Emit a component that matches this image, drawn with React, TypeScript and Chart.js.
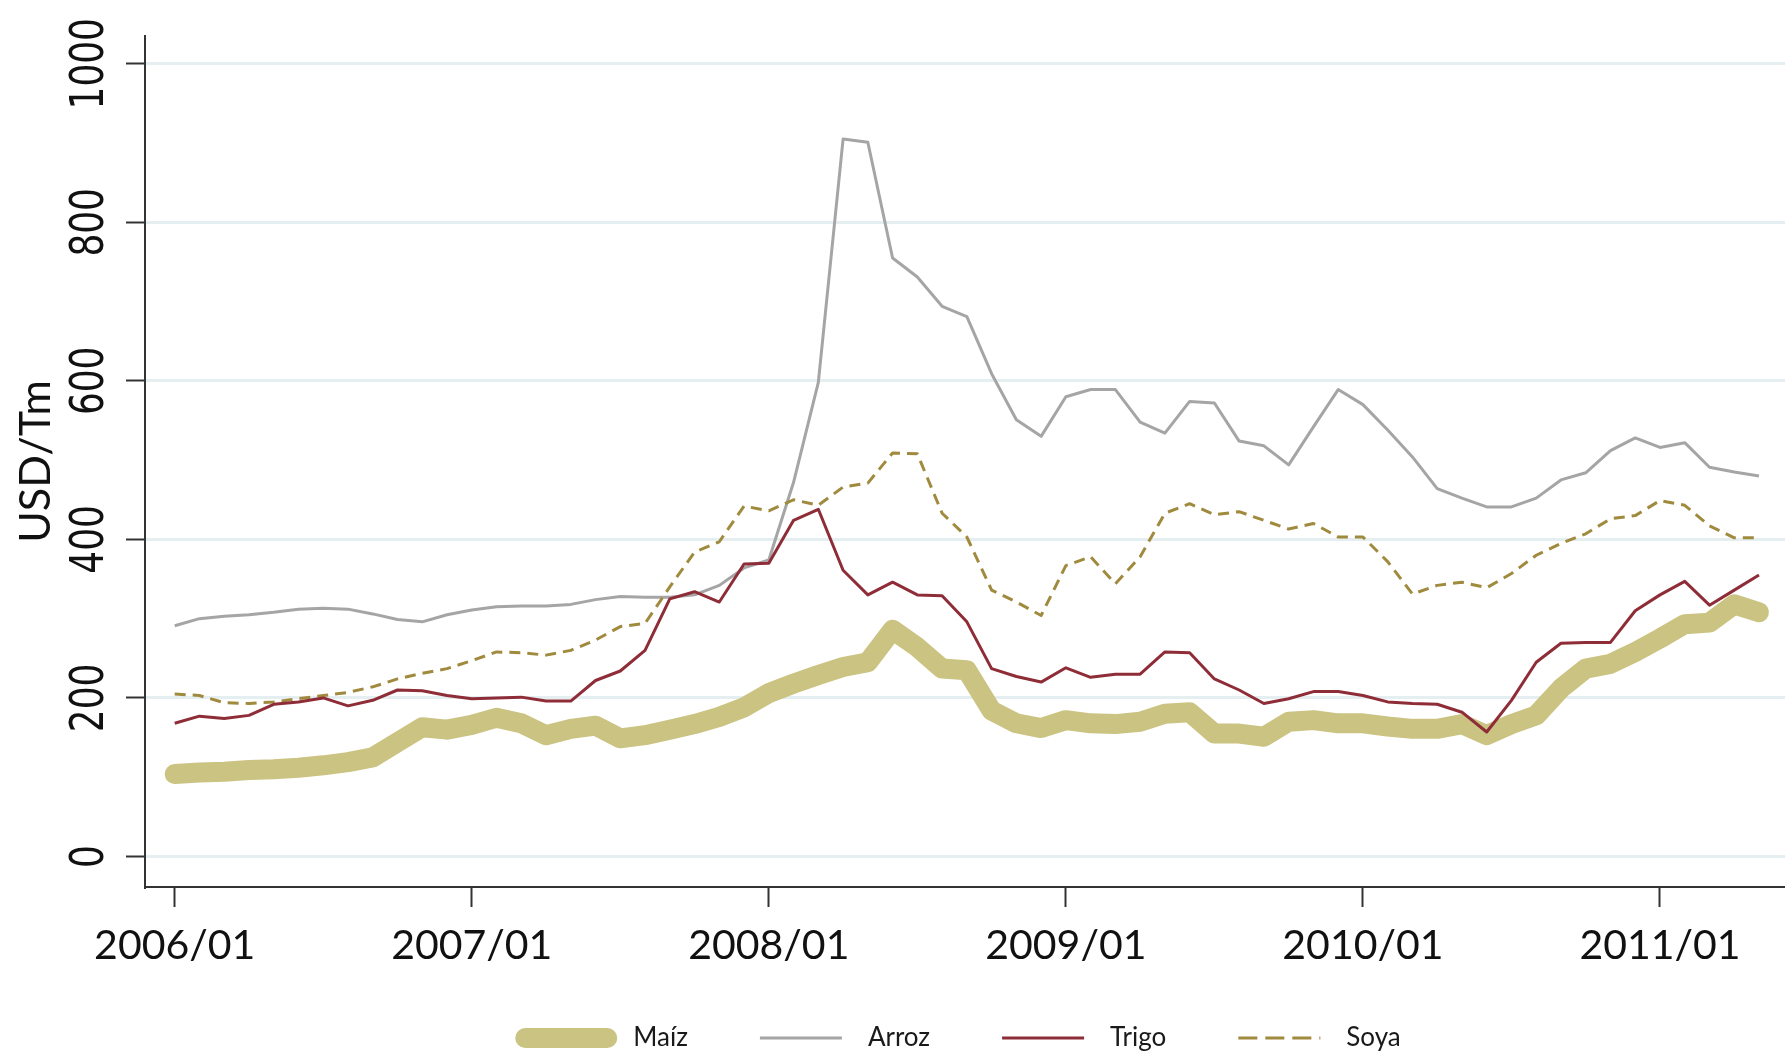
import React, { useEffect, useRef } from "react";
import { Chart, registerables } from "chart.js";

Chart.register(...registerables);

// Monthly prices, 2006/01 .. 2011/05 (USD/Tm)
const maiz = [104, 106, 107, 109, 110, 112, 115, 119, 125, 144, 163, 160, 166, 175, 168, 153, 161, 165, 149, 153, 160, 167, 176, 188, 206, 218, 229, 239, 245, 286, 264, 237, 235, 184, 168, 162, 172, 168, 167, 170, 180, 182, 155, 155, 151, 170, 172, 168, 168, 164, 161, 161, 167, 153, 167, 178, 212, 237, 243, 258, 275, 293, 295, 318, 308];
const arroz = [291, 300, 303, 305, 308, 312, 313, 312, 306, 299, 296, 305, 311, 315, 316, 316, 318, 324, 328, 327, 327, 330, 342, 364, 374, 472, 598, 905, 901, 755, 731, 694, 681, 609, 551, 530, 580, 589, 589, 548, 534, 574, 572, 524, 518, 494, 542, 589, 570, 538, 504, 464, 452, 441, 441, 452, 475, 484, 512, 528, 516, 522, 491, 485, 480];
const trigo = [168, 177, 174, 178, 192, 195, 200, 190, 197, 210, 209, 203, 199, 200, 201, 196, 196, 222, 234, 260, 325, 334, 321, 369, 370, 424, 438, 361, 330, 346, 330, 329, 296, 237, 227, 220, 238, 226, 230, 230, 258, 257, 224, 210, 193, 199, 208, 208, 203, 195, 193, 192, 182, 157, 197, 245, 269, 270, 270, 310, 330, 347, 317, 336, 355];
const soya = [205, 203, 194, 193, 195, 199, 203, 207, 214, 224, 231, 237, 247, 258, 257, 254, 260, 273, 290, 294, 340, 384, 397, 442, 436, 450, 443, 466, 471, 509, 508, 433, 403, 336, 321, 304, 367, 378, 344, 378, 433, 445, 431, 435, 424, 413, 420, 403, 403, 372, 331, 342, 346, 339, 357, 380, 395, 407, 426, 430, 449, 443, 417, 402, 402];

const seriesNames = ["Maíz", "Arroz", "Trigo", "Soya"];
const xTickLabels = ["2006/01", "2007/01", "2008/01", "2009/01", "2010/01", "2011/01"];
const yTickValues = [0, 200, 400, 600, 800, 1000];
const yTitle = "USD/Tm";

const toPoints = (arr: number[]) => arr.map((v, i) => ({ x: i, y: v }));

const yLabelPlugin = {
  id: "yRotatedLabels",
  afterDraw(chart: any) {
    const s = chart.scales.y;
    const ctx = chart.ctx;
    ctx.save();
    ctx.font = '46px "DejaVu Sans", Verdana, sans-serif';
    ctx.fillStyle = "#111";
    ctx.textAlign = "center";
    ctx.textBaseline = "alphabetic";
    s.ticks.forEach((t: any) => {
      const y = s.getPixelForValue(t.value);
      ctx.save();
      ctx.translate(s.right - 42, y);
      ctx.rotate(-Math.PI / 2);
      ctx.scale(0.78, 1);
      ctx.fillText(String(t.value), 0, 0);
      ctx.restore();
    });
    ctx.restore();
  },
};

// Legend drawn under the x axis, styled from the datasets themselves
const legendPlugin = {
  id: "bottomLegend",
  afterDraw(chart: any) {
    const ctx = chart.ctx;
    const area = chart.chartArea;
    const lineLen = 82;
    const lineToText = 26;
    const itemGap = 72;
    const cy = 1038;
    ctx.save();
    ctx.font = "26px Lato, 'Open Sans', sans-serif";
    const dss = chart.data.datasets;
    const widths = dss.map((d: any) => lineLen + lineToText + ctx.measureText(d.label).width);
    const total = widths.reduce((a: number, b: number) => a + b, 0) + itemGap * (dss.length - 1);
    let x = (area.left + area.right) / 2 - 2 - total / 2;
    dss.forEach((d: any, i: number) => {
      ctx.beginPath();
      ctx.strokeStyle = d.borderColor;
      ctx.lineWidth = d.borderWidth;
      ctx.lineCap = d.borderCapStyle || "butt";
      ctx.setLineDash(d.borderDash ? [19, 8] : []);
      ctx.moveTo(x, cy);
      ctx.lineTo(x + lineLen, cy);
      ctx.stroke();
      ctx.setLineDash([]);
      ctx.fillStyle = "#1a1a1a";
      ctx.textAlign = "left";
      ctx.textBaseline = "middle";
      ctx.fillText(d.label, x + lineLen + lineToText, cy);
      x += widths[i] + itemGap;
    });
    ctx.restore();
  },
};

export default function App() {
  const ref = useRef<HTMLCanvasElement | null>(null);
  useEffect(() => {
    if (!ref.current) return;
    const common = { pointRadius: 0, pointHoverRadius: 0, tension: 0, fill: false, borderJoinStyle: "round" as const };
    const chart = new Chart(ref.current, {
      type: "line",
      data: {
        datasets: [
          { label: seriesNames[0], data: toPoints(maiz), borderColor: "#cbc382", backgroundColor: "#cbc382", borderWidth: 20, borderCapStyle: "round", order: 4, ...common },
          { label: seriesNames[1], data: toPoints(arroz), borderColor: "#a5a5a5", backgroundColor: "#a5a5a5", borderWidth: 3, order: 3, ...common },
          { label: seriesNames[2], data: toPoints(trigo), borderColor: "#8e2d37", backgroundColor: "#8e2d37", borderWidth: 3, order: 1, ...common },
          { label: seriesNames[3], data: toPoints(soya), borderColor: "#a08a3e", backgroundColor: "#a08a3e", borderWidth: 3, borderDash: [11, 7], order: 2, ...common },
        ],
      },
      options: {
        responsive: false,
        animation: false,
        devicePixelRatio: 1,
        layout: { padding: { top: 36, right: 0, left: 0, bottom: 0 } },
        plugins: {
          tooltip: { enabled: false },
          legend: { display: false },
        },
        scales: {
          x: {
            type: "linear",
            min: -1.2,
            max: 65.05,
            afterBuildTicks: (s: any) => {
              s.ticks = xTickLabels.map((_, i) => ({ value: i * 12 }));
            },
            afterFit: (s: any) => {
              s.height = 164;
            },
            ticks: {
              autoSkip: false,
              maxRotation: 0,
              padding: 14,
              color: "#111",
              font: { family: "Lato, 'Open Sans', sans-serif", size: 41 },
              callback: (v: any) => xTickLabels[Math.round(Number(v) / 12)] ?? "",
            },
            grid: { drawOnChartArea: false, tickLength: 20, tickColor: "#333", tickWidth: 2 },
            border: { color: "#333", width: 2 },
          },
          y: {
            type: "linear",
            min: -38.5,
            max: 1035,
            afterBuildTicks: (s: any) => {
              s.ticks = yTickValues.map((v) => ({ value: v }));
            },
            afterFit: (s: any) => {
              s.width = 145;
            },
            ticks: { display: false },
            grid: { color: "#e5eef0", lineWidth: 3, tickLength: 19, tickColor: "#333", tickWidth: 2 },
            border: { color: "#333", width: 2 },
            title: {
              display: true,
              text: yTitle,
              color: "#111",
              padding: { top: 10, bottom: 0 },
              font: { family: "Lato, 'Open Sans', sans-serif", size: 43 },
            },
          },
        },
      },
      plugins: [yLabelPlugin, legendPlugin],
    });
    return () => chart.destroy();
  }, []);
  return (
    <div style={{ position: "fixed", left: 0, top: 0, width: 1785, height: 1051, background: "#fff" }}>
      <canvas ref={ref} width={1785} height={1051} style={{ display: "block" }} />
    </div>
  );
}
